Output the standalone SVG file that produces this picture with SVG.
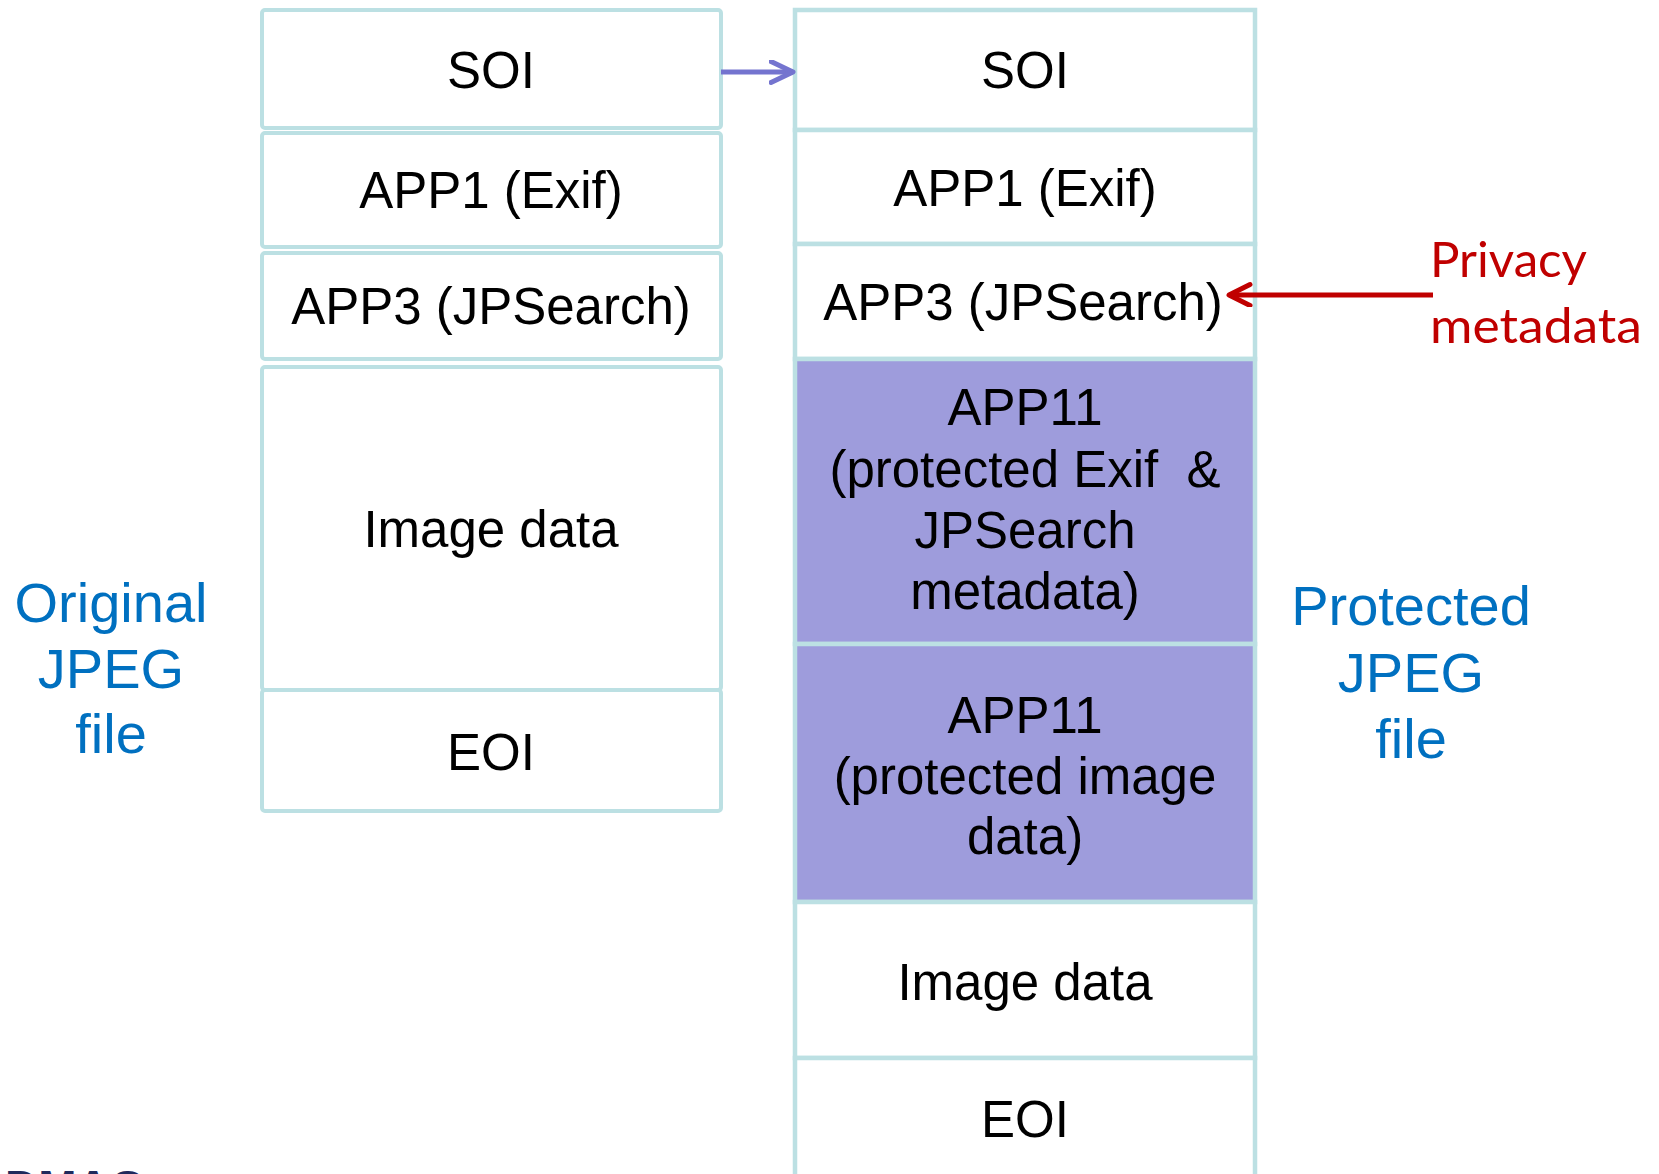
<svg xmlns="http://www.w3.org/2000/svg" width="1659" height="1174" viewBox="0 0 1659 1174">
<style>
.cell{fill:#FFFFFF;stroke:#BCE0E3;stroke-width:4.5}
.lc{fill:#FFFFFF;stroke:#BCE0E3;stroke-width:4}
.prot{fill:#9E9CDC;stroke:#BCE0E3;stroke-width:4.5}
.t{font-family:"Liberation Sans",Arial,sans-serif;font-size:51px;fill:#000000;text-anchor:middle;white-space:pre}
.blue{font-family:"Liberation Sans",Arial,sans-serif;font-size:56px;fill:#0070C0;text-anchor:middle}
.red{font-family:Lato,"Open Sans",sans-serif;font-size:48px;fill:#C00000}
</style>
<defs>
<marker id="chevBlue" markerUnits="userSpaceOnUse" markerWidth="30" markerHeight="30" refX="24" refY="12" orient="auto">
<path d="M2,1.5 L24,12 L2,22.5" fill="none" stroke="#7474CF" stroke-width="5" stroke-linecap="round" stroke-linejoin="round"/>
</marker>
<marker id="chevRed" markerUnits="userSpaceOnUse" markerWidth="30" markerHeight="30" refX="24" refY="12" orient="auto">
<path d="M3,1.5 L24,12 L3,22.5" fill="none" stroke="#C00000" stroke-width="5" stroke-linecap="round" stroke-linejoin="round"/>
</marker>
</defs>
<rect width="1659" height="1174" fill="#FFFFFF"/>

<g id="original-file">
<g id="orig-soi"><rect class="lc" x="262" y="10" width="459" height="118" rx="3"/><text class="t" x="491" y="88">SOI</text></g>
<g id="orig-app1"><rect class="lc" x="262" y="133" width="459" height="114" rx="3"/><text class="t" x="491" y="208">APP1 (Exif)</text></g>
<g id="orig-app3"><rect class="lc" x="262" y="253" width="459" height="106" rx="3"/><text class="t" x="491" y="324">APP3 (JPSearch)</text></g>
<g id="orig-image"><rect class="lc" x="262" y="367" width="459" height="323" rx="3"/><text class="t" x="491" y="547">Image data</text></g>
<g id="orig-eoi"><rect class="lc" x="262" y="690" width="459" height="121" rx="3"/><text class="t" x="491" y="770">EOI</text></g>
</g>

<g id="protected-file">
<g id="prot-soi"><rect class="cell" x="795" y="10" width="460" height="120"/><text class="t" x="1025" y="88">SOI</text></g>
<g id="prot-app1"><rect class="cell" x="795" y="130" width="460" height="114"/><text class="t" x="1025" y="206">APP1 (Exif)</text></g>
<g id="prot-app3"><rect class="cell" x="795" y="244" width="460" height="115"/><text class="t" x="1023" y="320">APP3 (JPSearch)</text></g>
<g id="prot-app11-meta"><rect class="prot" x="795" y="359" width="460" height="285"/>
<text class="t" x="1025" y="425">APP11</text>
<text class="t" x="1025" y="487">(protected Exif  &amp;</text>
<text class="t" x="1025" y="548">JPSearch</text>
<text class="t" x="1025" y="609">metadata)</text></g>
<g id="prot-app11-image"><rect class="prot" x="795" y="644" width="460" height="258"/>
<text class="t" x="1025" y="733">APP11</text>
<text class="t" x="1025" y="794">(protected image</text>
<text class="t" x="1025" y="854">data)</text></g>
<g id="prot-image"><rect class="cell" x="795" y="902" width="460" height="156"/><text class="t" x="1025" y="1000">Image data</text></g>
<g id="prot-eoi"><rect class="cell" x="795" y="1058" width="460" height="160"/><text class="t" x="1025" y="1137">EOI</text></g>
</g>

<g id="label-original"><text class="blue" x="111" y="622">Original</text><text class="blue" x="111" y="688">JPEG</text><text class="blue" x="111" y="753">file</text></g>
<g id="label-protected"><text class="blue" x="1411" y="625">Protected</text><text class="blue" x="1411" y="692">JPEG</text><text class="blue" x="1411" y="758">file</text></g>
<g id="label-privacy"><text class="red" x="1430" y="277" textLength="157" lengthAdjust="spacingAndGlyphs">Privacy</text><text class="red" x="1430" y="343" textLength="212" lengthAdjust="spacingAndGlyphs">metadata</text></g>

<g id="connectors">
<line x1="721" y1="72" x2="793" y2="72" stroke="#7474CF" stroke-width="5" marker-end="url(#chevBlue)"/>
<line x1="1433" y1="295" x2="1229" y2="295" stroke="#C00000" stroke-width="5" marker-end="url(#chevRed)"/>
</g>

<text x="5" y="1203" font-family="'Liberation Sans',Arial,sans-serif" font-size="46" font-weight="bold" fill="#1F2A5C">DMAG</text>
</svg>
